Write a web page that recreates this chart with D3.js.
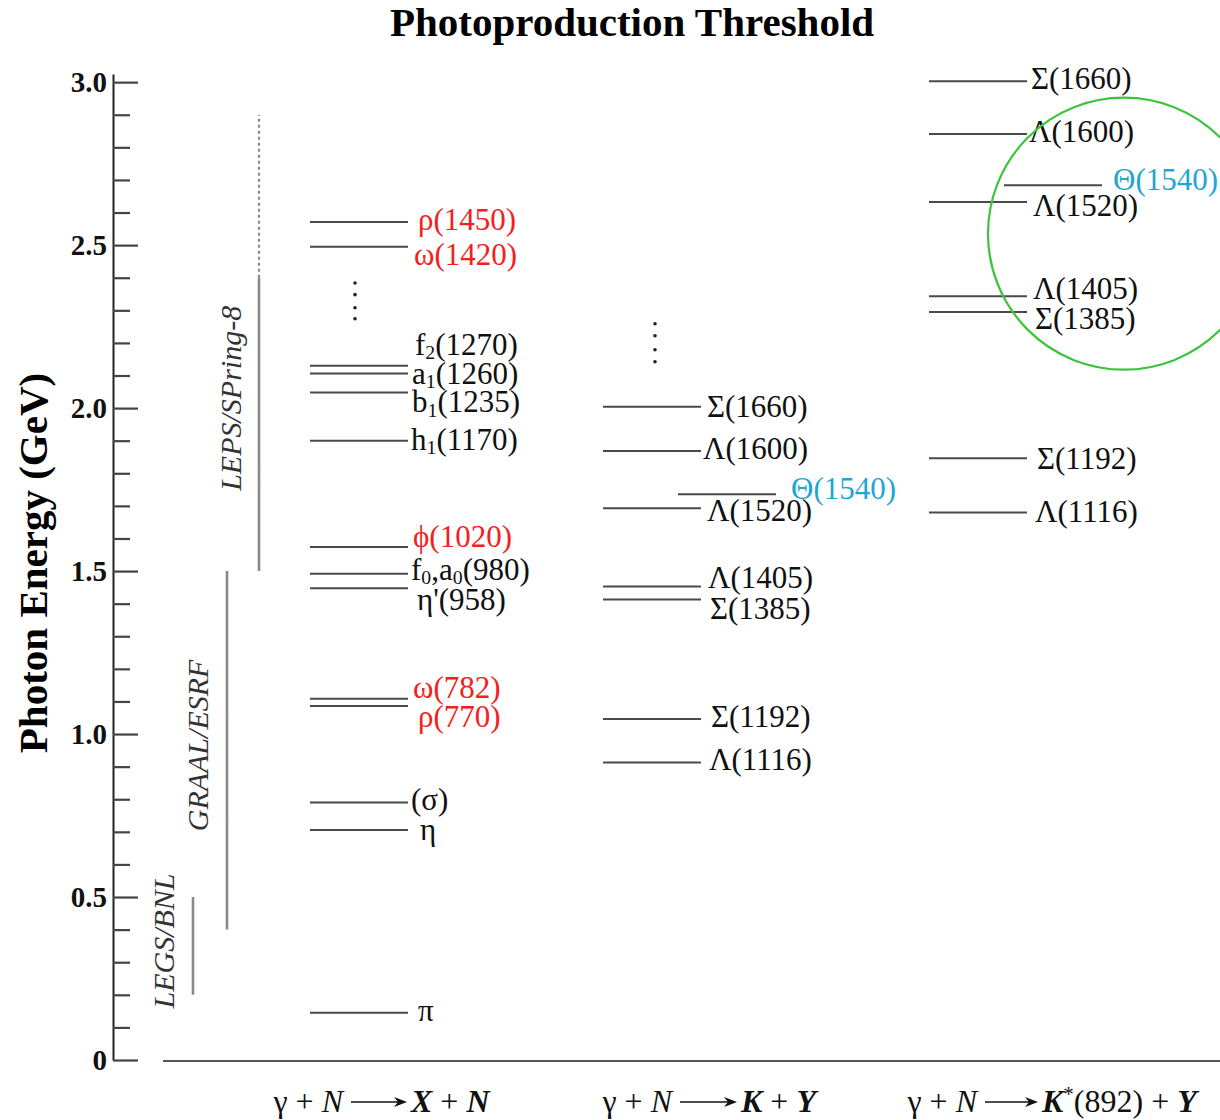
<!DOCTYPE html>
<html>
<head>
<meta charset="utf-8">
<script src="https://cdn.jsdelivr.net/npm/d3@7"></script>
<style>
  body { margin: 0; background: #fff; }
  svg text { font-family: "Liberation Serif", "Times New Roman", serif; }
</style>
</head>
<body>
<script>
// threshold energies (GeV)
const mesonNames = ["π", "η", "(σ)", "ρ(770)", "ω(782)", "η'(958)", "f_0,a_0(980)", "ϕ(1020)",
  "h_1(1170)", "b_1(1235)", "a_1(1260)", "f_2(1270)", "ω(1420)", "ρ(1450)"]
const mesonE = [0.145, 0.706, 0.79, 1.086, 1.108, 1.447, 1.492, 1.574, 1.900, 2.048, 2.106, 2.130, 2.495, 2.571]

const hyperonNames = ["Λ(1116)", "Σ(1192)", "Σ(1385)", "Λ(1405)", "Λ(1520)", "Θ(1540)", "Λ(1600)", "Σ(1660)"]
const kaonE = [0.913, 1.046, 1.413, 1.453, 1.693, 1.736, 1.868, 2.004]
const kstarE = [1.680, 1.846, 2.295, 2.343, 2.632, 2.684, 2.841, 3.003]

const redNames = ["ρ(770)", "ω(782)", "ϕ(1020)", "ω(1420)", "ρ(1450)"]
const cyanNames = ["Θ(1540)"]

const experiments = ["LEGS/BNL", "GRAAL/ESRF", "LEPS/SPring-8"]
const expFrom = [0.2, 0.4, 1.5]
const expTo = [0.5, 1.5, 2.4]
const lepsDottedTo = 2.9

const dotsXN = [2.384, 2.348, 2.308, 2.274]
const dotsKY = [2.259, 2.222, 2.179, 2.142]

const majorTicks = [0, 0.5, 1.0, 1.5, 2.0, 2.5, 3.0]
const minorTicks = d3.range(1, 30).filter(i => i % 5 !== 0).map(i => i / 10)

const reactions = ["XN", "KY", "KstarY"]
const reactionLeft = [["γ + "], ["N", "i"]]
const reactionRight = [
  [["X", "bi"], [" + "], ["N", "bi"]],
  [["K", "bi"], [" + "], ["Y", "bi"]],
  [["K", "bi"], ["*", "sup"], ["(892)", "down"], [" + "], ["Y", "bi"]]
]

// ---- layout ----
const W = 1220, H = 1120
const lineLen = 98, thetaShift = 75
const labelSize = 31, labelLift = -3

const svg = d3.select('body').append('svg')
  .attr('width', W).attr('height', H)

const y = d3.scaleLinear().domain([0, 3.025]).range([1060, 74])
const colX = d3.scaleOrdinal().domain(reactions).range([310, 603, 929])
const expX = d3.scaleOrdinal().domain(experiments).range([193, 227, 259])
const expLabelX = d3.scaleOrdinal().domain(experiments).range([163, 197, 230])
const expLabelE = [0.365, 0.965, 2.03]
const arrowX = d3.scaleOrdinal().domain(reactions).range([[351, 407], [680, 737], [985, 1038]])

// label nudges (px) where names crowd together
const nudge = {
  "XN|ρ(1450)": [10, 0], "XN|ω(1420)": [6, 10], "XN|f_2(1270)": [7, -19], "XN|a_1(1260)": [4, 2],
  "XN|b_1(1235)": [4, 12], "XN|h_1(1170)": [3, 1], "XN|ϕ(1020)": [5, -8], "XN|f_0,a_0(980)": [3, -2],
  "XN|η'(958)": [9, 14], "XN|ω(782)": [5, -9], "XN|ρ(770)": [10, 13], "XN|(σ)": [3, 0],
  "XN|η": [12, 2], "XN|π": [10, 0],
  "KY|Σ(1660)": [6, 2], "KY|Λ(1600)": [2, 0], "KY|Θ(1540)": [15, -3], "KY|Λ(1520)": [6, 5],
  "KY|Λ(1405)": [7, -6], "KY|Σ(1385)": [9, 12], "KY|Σ(1192)": [10, 0], "KY|Λ(1116)": [8, 0],
  "KstarY|Σ(1660)": [4, 0], "KstarY|Λ(1600)": [2, 0], "KstarY|Θ(1540)": [11, -3], "KstarY|Λ(1520)": [6, 6],
  "KstarY|Λ(1405)": [6, -5], "KstarY|Σ(1385)": [8, 9], "KstarY|Σ(1192)": [10, 3], "KstarY|Λ(1116)": [8, 2]
}

function rich(text, str, size) {
  const parts = str.split(/([_^].)/).filter(s => s.length)
  let shift = 0
  parts.forEach(p => {
    const t = text.append('tspan')
    let target = 0, s = p
    if (p[0] === '_') { target = size * 0.26; s = p[1]; t.attr('font-size', size * 0.64) }
    else if (p[0] === '^') { target = -size * 0.35; s = p[1]; t.attr('font-size', size * 0.64) }
    t.attr('dy', target - shift).text(s)
    shift = target
  })
}

function styled(text, parts) {
  parts.forEach(([s, st]) => {
    const sp = text.append('tspan').text(s)
    if (st === 'i') sp.attr('font-style', 'italic')
    if (st === 'bi') sp.attr('font-style', 'italic').attr('font-weight', 'bold')
    if (st === 'sup') sp.attr('font-size', 21).attr('dy', -11)
    if (st === 'down') sp.attr('dy', 11)
  })
}

// title
svg.append('text')
  .attr('x', 632).attr('y', 36)
  .attr('text-anchor', 'middle')
  .attr('font-size', 41).attr('font-weight', 'bold')
  .text('Photoproduction Threshold')

// y axis title
svg.append('text')
  .attr('transform', 'translate(33,563) rotate(-90)')
  .attr('text-anchor', 'middle').attr('dominant-baseline', 'central')
  .attr('font-size', 41).attr('font-weight', 'bold')
  .text('Photon Energy  (GeV)')

// axis: ticks point into the plot
const gMajor = svg.append('g').attr('transform', 'translate(113,0)')
  .call(d3.axisLeft(y).tickValues(majorTicks).tickSizeInner(-25).tickSizeOuter(0).tickPadding(6)
    .tickFormat(d => d === 0 ? '0' : d3.format('.1f')(d)))
gMajor.select('.domain').attr('stroke', '#222').attr('stroke-width', 2)
gMajor.selectAll('.tick line').attr('stroke', '#444').attr('stroke-width', 2.2)
gMajor.selectAll('.tick text')
  .attr('font-family', '"Liberation Serif", serif')
  .attr('font-size', 29).attr('font-weight', 'bold').attr('fill', '#111')

const gMinor = svg.append('g').attr('transform', 'translate(113,0)')
  .call(d3.axisLeft(y).tickValues(minorTicks).tickSizeInner(-17).tickSizeOuter(0).tickFormat(''))
gMinor.select('.domain').remove()
gMinor.selectAll('.tick line').attr('stroke', '#444').attr('stroke-width', 2.2)

// baseline
svg.append('line')
  .attr('x1', 163).attr('x2', W)
  .attr('y1', y(0) + 1).attr('y2', y(0) + 1)
  .attr('stroke', '#555').attr('stroke-width', 2.2)

// experiment ranges
const exps = experiments.map((name, i) => ({ name, from: expFrom[i], to: expTo[i], labelE: expLabelE[i] }))
svg.append('g').selectAll('line')
  .data(exps)
  .join('line')
  .attr('x1', d => expX(d.name)).attr('x2', d => expX(d.name))
  .attr('y1', d => y(d.from)).attr('y2', d => y(d.to))
  .attr('stroke', '#8a8a8a').attr('stroke-width', 2.6)

svg.append('line')
  .attr('x1', expX("LEPS/SPring-8")).attr('x2', expX("LEPS/SPring-8"))
  .attr('y1', y(expTo[2])).attr('y2', y(lepsDottedTo))
  .attr('stroke', '#8a8a8a').attr('stroke-width', 2.2)
  .attr('stroke-dasharray', '3,3')

svg.append('g').selectAll('text')
  .data(exps)
  .join('text')
  .attr('transform', d => `translate(${expLabelX(d.name)},${y(d.labelE)}) rotate(-90)`)
  .attr('text-anchor', 'middle').attr('dominant-baseline', 'central')
  .attr('font-size', 30).attr('font-style', 'italic').attr('fill', '#333')
  .text(d => d.name)

// threshold levels
const levels = []
mesonNames.forEach((n, i) => levels.push({ col: "XN", name: n, e: mesonE[i] }))
hyperonNames.forEach((n, i) => levels.push({ col: "KY", name: n, e: kaonE[i] }))
hyperonNames.forEach((n, i) => levels.push({ col: "KstarY", name: n, e: kstarE[i] }))
levels.forEach(d => {
  d.x1 = colX(d.col) + (cyanNames.includes(d.name) ? thetaShift : 0)
  d.x2 = d.x1 + lineLen
  const nd = nudge[d.col + '|' + d.name] || [5, 0]
  d.lx = d.x2 + nd[0]
  d.ly = y(d.e) + nd[1] + labelLift
  d.color = redNames.includes(d.name) ? '#f4201c' : cyanNames.includes(d.name) ? '#1fa6d2' : '#111'
})

svg.append('g').selectAll('line')
  .data(levels)
  .join('line')
  .attr('x1', d => d.x1).attr('x2', d => d.x2)
  .attr('y1', d => y(d.e)).attr('y2', d => y(d.e))
  .attr('stroke', '#4a4a4a').attr('stroke-width', 2)

svg.append('g').selectAll('text')
  .data(levels)
  .join('text')
  .attr('x', d => d.lx).attr('y', d => d.ly)
  .attr('dominant-baseline', 'central')
  .attr('font-size', labelSize)
  .attr('fill', d => d.color)
  .each(function (d) { rich(d3.select(this), d.name, labelSize) })

// "more states" dots
const dots = dotsXN.map(e => ({ x: colX("XN") + 45, e }))
  .concat(dotsKY.map(e => ({ x: colX("KY") + 52, e })))
svg.append('g').selectAll('circle')
  .data(dots)
  .join('circle')
  .attr('cx', d => d.x).attr('cy', d => y(d.e))
  .attr('r', 1.8).attr('fill', '#222')

// reaction labels below: left part, long arrow, right part
const baseY = 1112
reactions.forEach((r, i) => {
  const [a0, a1] = arrowX(r)
  const left = svg.append('text')
    .attr('x', a0 - 8).attr('y', baseY)
    .attr('text-anchor', 'end')
    .attr('font-size', 32).attr('fill', '#111')
  styled(left, reactionLeft)
  svg.append('line')
    .attr('x1', a0).attr('x2', a1 - 4)
    .attr('y1', baseY - 10).attr('y2', baseY - 10)
    .attr('stroke', '#111').attr('stroke-width', 1.6)
  svg.append('path')
    .attr('d', `M${a1},${baseY - 10} L${a1 - 13},${baseY - 15} L${a1 - 9},${baseY - 10} L${a1 - 13},${baseY - 5} Z`)
    .attr('fill', '#111')
  const right = svg.append('text')
    .attr('x', a1 + 4).attr('y', baseY)
    .attr('font-size', 32).attr('fill', '#111')
  styled(right, reactionRight[i])
})

// highlight circle around the K* pentaquark region
svg.append('circle')
  .attr('cx', 1124).attr('cy', y(2.535))
  .attr('r', 136)
  .attr('fill', 'none')
  .attr('stroke', '#3cc43c').attr('stroke-width', 2.2)
</script>
</body>
</html>
